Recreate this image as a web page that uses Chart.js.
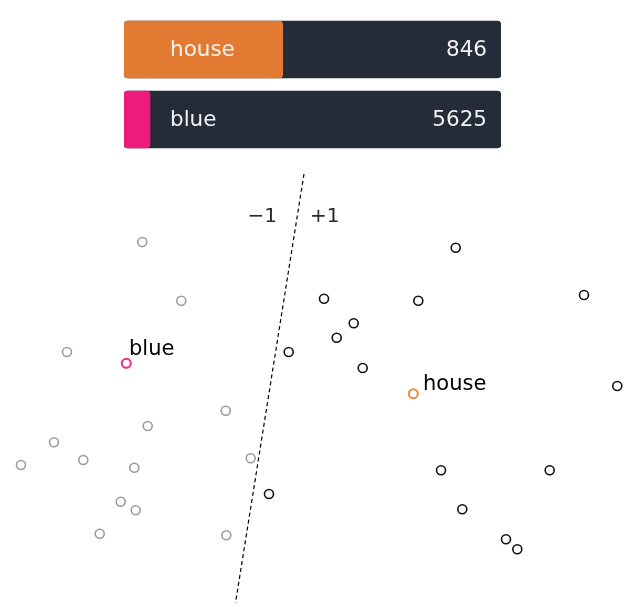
<!DOCTYPE html>
<html>
<head>
<meta charset="utf-8">
<script src="https://cdn.jsdelivr.net/npm/chart.js@4/dist/chart.umd.min.js"></script>
<style>
  html, body { margin: 0; padding: 0; background: #ffffff; overflow: hidden; }
  #wrap { position: relative; width: 637px; height: 613px; overflow: hidden; }
  #scatter { position: absolute; left: -20px; top: -20px; }
  #bars { position: absolute; left: 0; top: 0; z-index: 2; }
</style>
</head>
<body>
<div id="wrap">
  <canvas id="scatter" width="677" height="653"></canvas>
  <canvas id="bars" width="637" height="165"></canvas>
</div>
<script>
// ---- Bar data ----
const words = ['house', 'blue'];
const wordValues = [846, 5625];
const wordFill = [0.421, 0.069];
const wordColors = ['#e27a31', '#ec1c7e'];

// ---- Scatter data (embedding plane, y grows downward) ----
const negX = [142.3, 181.3, 67, 225.7, 147.7, 54, 21, 83.3, 134.3, 250.7, 120.7, 135.7, 99.7, 226.3];
const negY = [242, 300.7, 352, 410.7, 426, 442.3, 465, 460, 467.7, 458.3, 501.7, 510.3, 533.7, 535.3];
const posX = [288.7, 269, 455.7, 324, 418.3, 584, 353.7, 336.7, 362.7, 617.3, 441, 549.7, 462.3, 506, 517.3];
const posY = [352, 494, 247.7, 298.7, 300.7, 295, 323.3, 337.7, 368, 386, 470.3, 470.3, 509.3, 539.3, 549.3];
const wordX = [413.3, 126.3];
const wordY = [393.7, 363.3];
const wordPointColors = ['#f08a3a', '#f0287f'];
const wordLabelX = [423, 129];
const wordLabelY = [390, 355];
const boundaryX = [304, 235.5];
const boundaryY = [174, 603];
const sideLabels = ['\u22121', '+1'];
const sideLabelX = [277, 310];
const sideLabelY = [222, 222];

const zip = (xs, ys) => xs.map((x, i) => ({ x: x, y: ys[i] }));

// ---- Bars chart ----
const barText = {
  id: 'barText',
  afterDatasetsDraw(chart) {
    const ctx = chart.ctx;
    const meta = chart.getDatasetMeta(1);
    const area = chart.chartArea;
    ctx.save();
    ctx.font = '21.5px "DejaVu Sans"';
    ctx.fillStyle = '#f2f2f2';
    ctx.textBaseline = 'middle';
    meta.data.forEach((bar, i) => {
      ctx.textAlign = 'left';
      ctx.fillText(words[i], area.left + 46, bar.y + 1);
      ctx.textAlign = 'right';
      ctx.fillText(String(wordValues[i]), area.right - 14, bar.y + 1);
    });
    ctx.restore();
  }
};

new Chart(document.getElementById('bars'), {
  type: 'bar',
  data: {
    labels: words,
    datasets: [
      {
        data: wordFill,
        backgroundColor: wordColors,
        borderRadius: 4,
        borderSkipped: false,
        barThickness: 57,
        order: 0
      },
      {
        data: words.map(() => 1),
        backgroundColor: '#232c38',
        borderWidth: 0,
        borderRadius: 4,
        borderSkipped: false,
        barThickness: 57,
        order: 1
      }
    ]
  },
  options: {
    responsive: false,
    animation: false,
    indexAxis: 'y',
    events: [],
    layout: { padding: { left: 124, right: 136, top: 14.5, bottom: 10.5 } },
    scales: {
      x: { display: false, min: 0, max: 1 },
      y: { display: false, stacked: false }
    },
    datasets: { bar: { grouped: false } },
    plugins: { legend: { display: false }, tooltip: { enabled: false } }
  },
  plugins: [barText]
});

// ---- Scatter chart ----
const scatterText = {
  id: 'scatterText',
  afterDatasetsDraw(chart) {
    const ctx = chart.ctx;
    const xs = chart.scales.x, ys = chart.scales.y;
    ctx.save();
    ctx.textBaseline = 'alphabetic';
    ctx.font = '21px "DejaVu Sans"';
    ctx.fillStyle = '#000000';
    ctx.textAlign = 'left';
    words.forEach((w, i) => {
      ctx.fillText(w, xs.getPixelForValue(wordLabelX[i]), ys.getPixelForValue(wordLabelY[i]));
    });
    ctx.font = '20px "DejaVu Sans"';
    ctx.fillStyle = '#2a2a2a';
    sideLabels.forEach((t, i) => {
      ctx.textAlign = i === 0 ? 'right' : 'left';
      ctx.fillText(t, xs.getPixelForValue(sideLabelX[i]), ys.getPixelForValue(sideLabelY[i]));
    });
    ctx.restore();
  }
};

const pointBase = {
  showLine: false,
  pointStyle: 'circle',
  pointRadius: 4.5,
  pointBorderWidth: 1.6,
  pointBackgroundColor: 'rgba(255,255,255,0)'
};

new Chart(document.getElementById('scatter'), {
  type: 'scatter',
  data: {
    datasets: [
      Object.assign({}, pointBase, { data: zip(negX, negY), pointBorderColor: '#9c9c9c' }),
      Object.assign({}, pointBase, { data: zip(posX, posY), pointBorderColor: '#111111' }),
      Object.assign({}, pointBase, { data: zip(wordX, wordY), pointBorderColor: wordPointColors, pointBorderWidth: 2 }),
      {
        data: zip(boundaryX, boundaryY),
        showLine: true,
        pointRadius: 0,
        borderColor: '#000000',
        borderWidth: 1.2,
        borderDash: [4, 3]
      }
    ]
  },
  options: {
    responsive: false,
    animation: false,
    events: [],
    layout: { padding: 20 },
    scales: {
      x: { display: false, min: 0, max: 637 },
      y: { display: false, min: 0, max: 613, reverse: true }
    },
    plugins: { legend: { display: false }, tooltip: { enabled: false } }
  },
  plugins: [scatterText]
});
</script>
</body>
</html>
